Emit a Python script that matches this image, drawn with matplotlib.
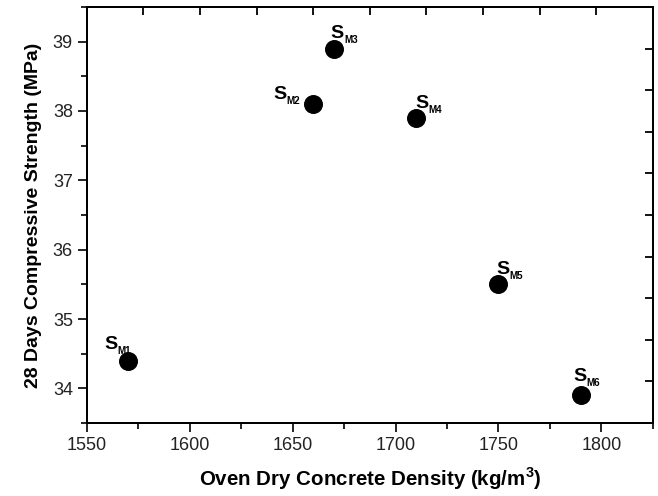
import matplotlib
matplotlib.use("Agg")
import matplotlib.pyplot as plt
import numpy as np
from matplotlib.ticker import MultipleLocator, FixedLocator, NullFormatter

plt.rcParams["font.family"] = ["Liberation Sans", "DejaVu Sans"]
plt.rcParams["mathtext.fontset"] = "custom"
plt.rcParams["mathtext.rm"] = "Liberation Sans"
plt.rcParams["mathtext.bf"] = "Liberation Sans:bold"

# data
density = [1570, 1660, 1670, 1710, 1750, 1790]
strength = [34.4, 38.1, 38.9, 37.9, 35.5, 33.9]
labels = ["M1", "M2", "M3", "M4", "M5", "M6"]
# label placement in points: (left of "S", baseline of "S") from point centre
offsets = [(-17.0, 8.5), (-29.0, 3.8), (-2.2, 7.5), (-0.7, 7.0), (-1.4, 7.5), (-5.5, 10.0)]

XLIM = (1550, 1825)
YLIM = (33.5, 39.5)

fig = plt.figure(figsize=(6.58, 4.96), dpi=100)
ax = fig.add_axes([0.132, 0.147, 0.860, 0.839])

ax.scatter(density, strength, s=160, color="black", zorder=3)

for x, y, lab, (dx, dy) in zip(density, strength, labels, offsets):
    ax.annotate("S", (x, y), xytext=(dx, dy), textcoords="offset points",
                fontsize=14, fontweight="bold", ha="left", va="baseline")
    ax.annotate(lab, (x, y), xytext=(dx + 9.6, dy - 3.6), textcoords="offset points",
                fontsize=7, fontweight="bold", ha="left", va="baseline")

ax.set_xlim(*XLIM)
ax.set_ylim(*YLIM)
ax.xaxis.set_major_locator(MultipleLocator(50))
ax.xaxis.set_minor_locator(MultipleLocator(25))
ax.yaxis.set_major_locator(MultipleLocator(1))
ax.yaxis.set_minor_locator(MultipleLocator(0.5))
ax.tick_params(which="major", direction="out", length=6.5, width=1.2, labelsize=13,
               colors="black", labelcolor="#222222")
ax.tick_params(which="minor", direction="out", length=4, width=1.2)

for sp in ax.spines.values():
    sp.set_linewidth(1.4)

# top and right axes: unlabeled inward ticks dividing the frame into ten parts
top = ax.twiny()
top.set_xlim(*XLIM)
top.xaxis.set_major_locator(FixedLocator(np.linspace(*XLIM, 11)[1:-1]))
top.xaxis.set_major_formatter(NullFormatter())
top.xaxis.set_tick_params(which="major", direction="in", length=6, width=1.3,
                          top=True, bottom=False, labeltop=False)
right = ax.twinx()
right.set_ylim(*YLIM)
right.yaxis.set_major_locator(FixedLocator(np.linspace(*YLIM, 11)[1:-1]))
right.yaxis.set_major_formatter(NullFormatter())
right.yaxis.set_tick_params(which="major", direction="in", length=6, width=1.3,
                            right=True, left=False, labelright=False)
for a in (top, right):
    a.set_zorder(5)
    for sp in a.spines.values():
        sp.set_linewidth(1.4)

ax.set_xlabel("Oven Dry Concrete Density (kg/m$^\\mathbf{3}$)", fontsize=14.8, fontweight="bold", labelpad=8)
ax.set_ylabel("28 Days Compressive Strength (MPa)", fontsize=14, fontweight="bold", labelpad=8)

fig.savefig("out.png", dpi=100)
